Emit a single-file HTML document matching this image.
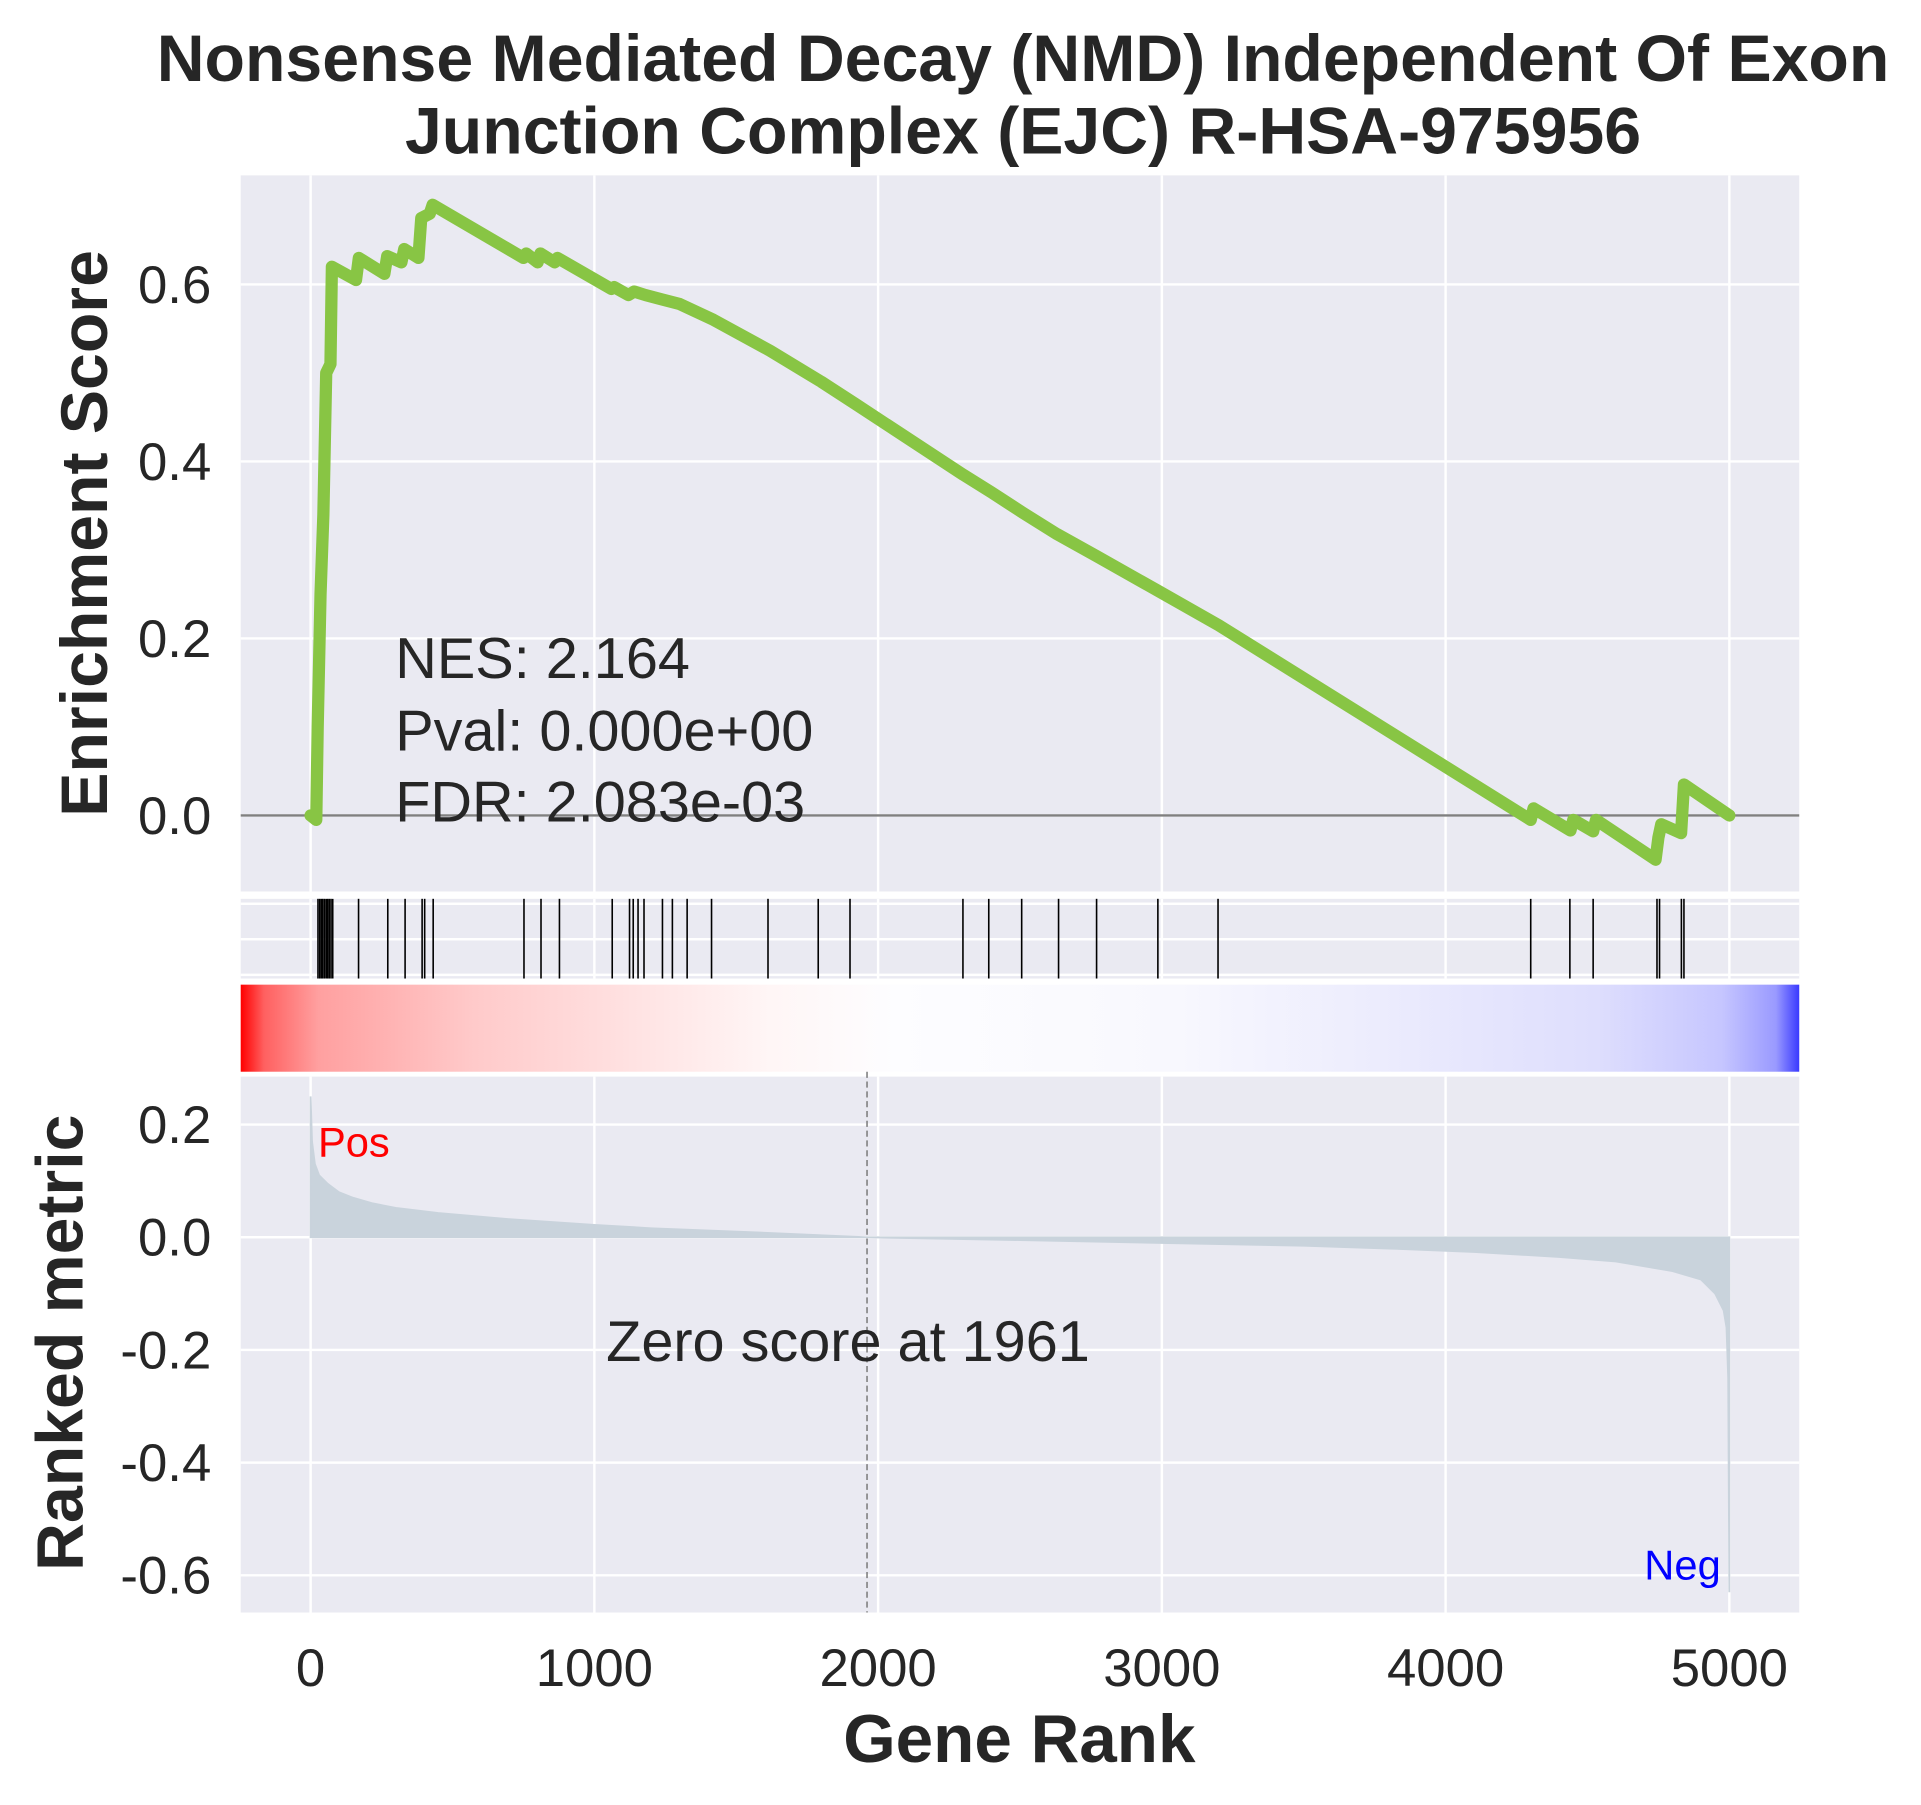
<!DOCTYPE html>
<html><head><meta charset="utf-8"><style>
html,body{margin:0;padding:0;background:#fff;}
svg{display:block;font-family:"Liberation Sans",Arial,sans-serif;}
</style></head><body>
<svg id="chart" width="1921" height="1805" viewBox="0 0 1566 1472" xmlns="http://www.w3.org/2000/svg">
<defs>
<linearGradient id="cb" x1="0" x2="1" y1="0" y2="0">
<stop offset="0" stop-color="#ff0000"/>
<stop offset="0.015" stop-color="#ff6060"/>
<stop offset="0.05" stop-color="#ffa0a0"/>
<stop offset="0.15" stop-color="#ffcaca"/>
<stop offset="0.26" stop-color="#ffe4e4"/>
<stop offset="0.34" stop-color="#fff6f6"/>
<stop offset="0.42" stop-color="#fdfdff"/>
<stop offset="0.6" stop-color="#f8f8fe"/>
<stop offset="0.73" stop-color="#ececfd"/>
<stop offset="0.87" stop-color="#dedefd"/>
<stop offset="0.95" stop-color="#c6c6ff"/>
<stop offset="0.985" stop-color="#9a9aff"/>
<stop offset="1" stop-color="#3a3aff"/>
</linearGradient>
</defs>
<g id="root"></g>
</svg>
<script>
const esRanks=[0,20,25,35,45,55,70,75,160,170,260,270,320,330,380,390,420,430,750,760,800,810,860,870,1060,1070,1120,1140,1180,1240,1300,1420,1620,1800,1920,2300,2400,2510,2630,2770,2980,3200,4300,4310,4440,4450,4520,4530,4740,4750,4760,4830,4840,5000];
const esValues=[0,-0.005,0.1,0.25,0.34,0.5,0.51,0.62,0.605,0.63,0.612,0.632,0.625,0.64,0.63,0.675,0.68,0.69,0.63,0.635,0.625,0.635,0.625,0.63,0.595,0.597,0.588,0.592,0.588,0.583,0.578,0.56,0.525,0.49,0.465,0.385,0.365,0.342,0.318,0.293,0.255,0.215,-0.005,0.008,-0.017,-0.005,-0.018,-0.005,-0.05,-0.025,-0.01,-0.02,0.035,0.0];
const hitRanks=[26,32,38,43,49,55,60,66,72,78,169,272,333,393,402,432,752,812,877,1063,1124,1137,1154,1175,1240,1275,1327,1413,1612,1789,1901,2299,2390,2506,2636,2770,2986,3198,4300,4438,4520,4745,4754,4831,4840];
const metricRanks=[0,5,15,30,60,100,150,220,300,450,700,1000,1200,1600,1961,2500,3000,3500,3800,4100,4400,4600,4800,4900,4950,4980,4990,4996,5000];
const metricValues=[0.25,0.17,0.13,0.11,0.095,0.08,0.07,0.06,0.052,0.043,0.032,0.022,0.016,0.008,0,-0.005,-0.01,-0.015,-0.02,-0.026,-0.035,-0.043,-0.06,-0.075,-0.1,-0.13,-0.16,-0.25,-0.63];
const xTicks=[0,1000,2000,3000,4000,5000];
const esTicks=[0,0.2,0.4,0.6];
const esTickLabels=["0.0","0.2","0.4","0.6"];
const mTicks=[0.2,0,-0.2,-0.4,-0.6];
const mTickLabels=["0.2","0.0","-0.2","-0.4","-0.6"];
const zeroRank=1961;

const NS="http://www.w3.org/2000/svg";
const root=document.getElementById('root');
function el(tag,attrs,parent){const e=document.createElementNS(NS,tag);for(const k in attrs)e.setAttribute(k,attrs[k]);(parent||root).appendChild(e);return e;}
const X=r=>253+r*0.2314;
const Yes=v=>665-v*721.7;
const Ym=v=>1009-v*459.5;
const L=196,R=1467;
let a;
a=el('rect',{x:L,y:143,width:R-L,height:584,fill:'#eaeaf2'});
a=el('rect',{x:L,y:733,width:R-L,height:65,fill:'#eaeaf2'});
a=el('rect',{x:L,y:803,width:R-L,height:71,fill:'url(#cb)'});
a=el('rect',{x:L,y:878,width:R-L,height:437,fill:'#eaeaf2'});
for(const t of xTicks){
 for(const [y1,y2] of [[143,727],[733,798],[878,1315]]){const g=el('line',{x1:X(t),x2:X(t),y1:y1,y2:y2,stroke:'#fff','stroke-width':2});}
}
for(const t of esTicks){const g=el('line',{x1:L,x2:R,y1:Yes(t),y2:Yes(t),stroke:'#fff','stroke-width':2});}
for(const y of [737,766,795]){const g=el('line',{x1:L,x2:R,y1:y,y2:y,stroke:'#fff','stroke-width':2});}
for(const t of mTicks){const g=el('line',{x1:L,x2:R,y1:Ym(t),y2:Ym(t),stroke:'#fff','stroke-width':2});}
a=el('line',{x1:L,x2:R,y1:Yes(0),y2:Yes(0),stroke:'#808080','stroke-width':2});
a=el('polyline',{points:esRanks.map((r,i)=>X(r)+','+Yes(esValues[i])).join(' '),fill:'none',stroke:'#88c544','stroke-width':10,'stroke-linejoin':'round','stroke-linecap':'round'});

for(const h of hitRanks){const l=el('line',{x1:X(h),x2:X(h),y1:733,y2:798,stroke:'#000','stroke-width':1.3});}
let pts=X(metricRanks[0])+','+Ym(0)+' '+metricRanks.map((r,i)=>X(r)+','+Ym(metricValues[i])).join(' ')+' '+X(metricRanks[metricRanks.length-1])+','+Ym(0);
a=el('polygon',{points:pts,fill:'#c9d3dc',stroke:'#c9d3dc','stroke-width':1.5});
a=el('line',{x1:X(zeroRank),x2:X(zeroRank),y1:874,y2:1315,stroke:'#777','stroke-width':1.2,'stroke-dasharray':'5,3'});
function txt(s,attrs,name){const t=el('text',attrs);t.textContent=s;return t;}
xTicks.forEach(t=>txt(String(t),{x:X(t),y:1375,'font-size':43,'text-anchor':'middle',fill:'#262626'},'x-tick-label'));
esTicks.forEach((t,i)=>txt(esTickLabels[i],{x:172,y:Yes(t)+15,'font-size':43,'text-anchor':'end',fill:'#262626'},'es-tick-label'));
mTicks.forEach((t,i)=>txt(mTickLabels[i],{x:172,y:Ym(t)+15,'font-size':43,'text-anchor':'end',fill:'#262626'},'metric-tick-label'));
txt('Nonsense Mediated Decay (NMD) Independent Of Exon',{x:834,y:66,'font-size':54,'font-weight':'bold','text-anchor':'middle',fill:'#262626'},'chart-title-line1');
txt('Junction Complex (EJC) R-HSA-975956',{x:834,y:125,'font-size':54,'font-weight':'bold','text-anchor':'middle',fill:'#262626'},'chart-title-line2');
txt('Enrichment Score',{x:0,y:0,'font-size':54,'font-weight':'bold','text-anchor':'middle',fill:'#262626',transform:'translate(87,435) rotate(-90)'},'y-axis-title-es');
txt('Ranked metric',{x:0,y:0,'font-size':54,'font-weight':'bold','text-anchor':'middle',fill:'#262626',transform:'translate(67,1095) rotate(-90)'},'y-axis-title-metric');
txt('Gene Rank',{x:831,y:1437,'font-size':55,'font-weight':'bold','text-anchor':'middle',fill:'#262626'},'x-axis-title');
txt('NES: 2.164',{x:322,y:553,'font-size':47,fill:'#262626'},'nes-label');
txt('Pval: 0.000e+00',{x:322,y:612,'font-size':47,fill:'#262626'},'pval-label');
txt('FDR: 2.083e-03',{x:322,y:670,'font-size':47,fill:'#262626'},'fdr-label');
txt('Zero score at 1961',{x:494,y:1110,'font-size':47,fill:'#262626'},'zero-score-label');
txt('Pos',{x:259,y:943,'font-size':34,fill:'#ff0000'},'pos-label');
txt('Neg',{x:1403,y:1288,'font-size':34,fill:'#0000ff','text-anchor':'end'},'neg-label');
</script>
</body></html>
